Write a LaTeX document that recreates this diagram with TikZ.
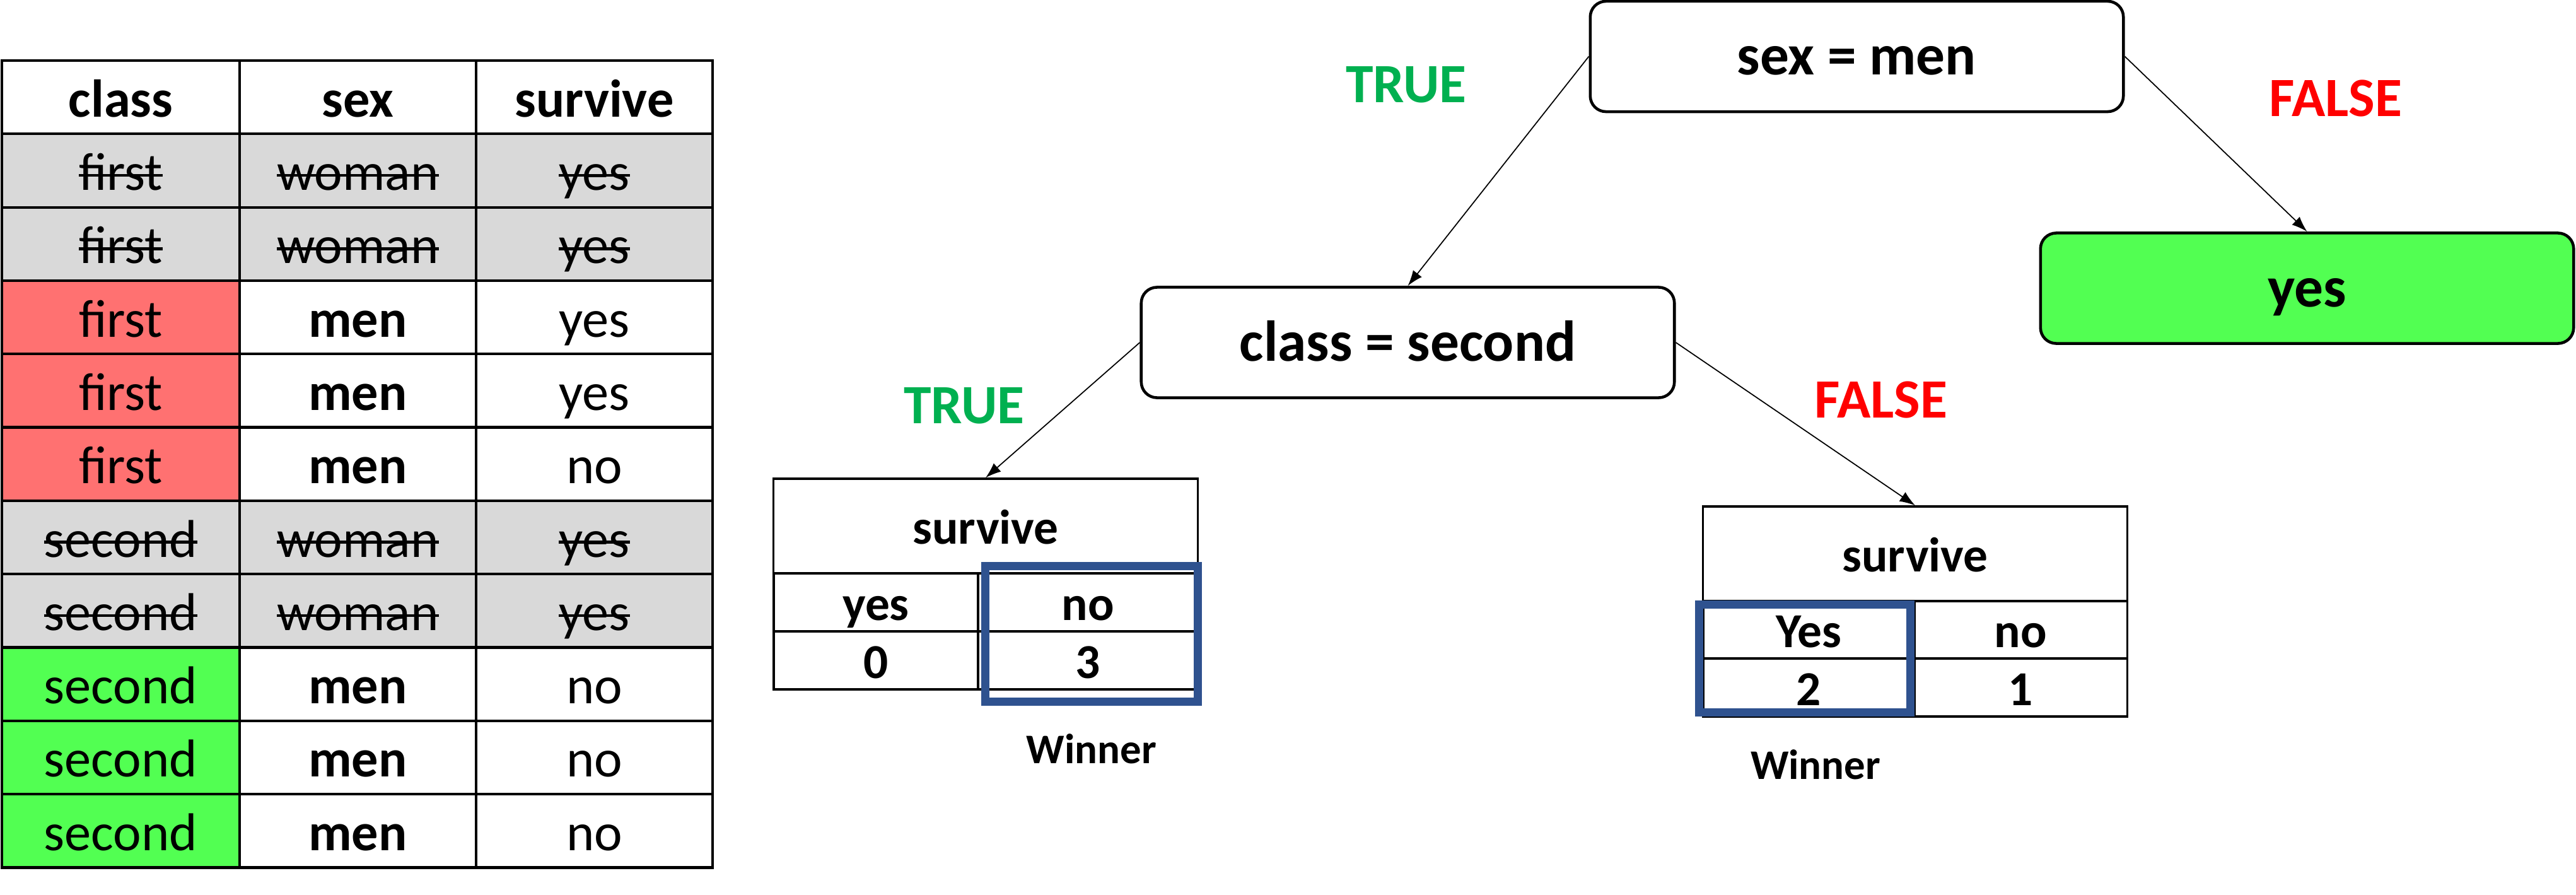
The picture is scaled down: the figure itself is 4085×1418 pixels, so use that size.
\documentclass[tikz,border=0pt]{standalone}
\usepackage{fontspec}
\setmainfont{Carlito}
\usetikzlibrary{arrows.meta}
\definecolor{grayrow}{HTML}{D9D9D9}
\definecolor{redcell}{HTML}{FF7171}
\definecolor{greencell}{HTML}{52FF52}
\definecolor{truegreen}{HTML}{00B050}
\definecolor{falsered}{HTML}{FF0000}
\definecolor{winblue}{HTML}{2F528F}
\newcommand\strk[1]{\setbox0\hbox{#1}\rlap{\rule[6pt]{\wd0}{1.3pt}}\box0}
\newcommand\mrow[7]{%
  \node[cell, minimum width=3.77cm, fill=#3] (#1a) at (191.5,#2) {#5};
  \node[cell, minimum width=3.75cm, fill=#4] (#1b) at (567.5,#2) {#6};
  \node[cell, minimum width=3.75cm, fill=#4] (#1c) at (942.5,#2) {#7};
}
\tikzset{
  cell/.style={draw, line width=1.2pt, minimum height=1.163cm, inner sep=0pt,
    text height=0.62cm, text depth=0cm, font=\fontsize{24}{28}\selectfont},
  treebox/.style={draw, line width=1.3pt, rounded corners=0.25cm, inner sep=0pt,
    minimum width=8.45cm, minimum height=1.75cm, text height=0.58cm, text depth=0cm,
    font=\bfseries\fontsize{26}{30}\selectfont},
  scell/.style={draw, line width=0.9pt, inner sep=0pt, text height=0.56cm, text depth=0cm,
    font=\bfseries\fontsize{22}{26}\selectfont},
  winbox/.style={draw=winblue, line width=3.7pt, inner sep=0pt},
  tlabel/.style={font=\bfseries\fontsize{25}{30}\selectfont, text=truegreen},
  flabel/.style={font=\bfseries\fontsize{25}{30}\selectfont, text=falsered},
  wlabel/.style={font=\bfseries\fontsize{19}{23}\selectfont},
  arr/.style={-{Latex[length=7pt,width=5pt]}, line width=0.5pt}
}
\begin{document}
\begin{tikzpicture}[x=0.01cm, y=-0.01cm]
\useasboundingbox (0,0) rectangle (4085,1418);
% main table
\mrow{h}{154.2}{white}{white}{\bfseries class}{\bfseries sex}{\bfseries survive}
\mrow{r1}{270.5}{grayrow}{grayrow}{\strk{first}}{\strk{woman}}{\strk{yes}}
\mrow{r2}{386.8}{grayrow}{grayrow}{\strk{first}}{\strk{woman}}{\strk{yes}}
\mrow{r3}{503.1}{redcell}{white}{first}{\bfseries men}{yes}
\mrow{r4}{619.4}{redcell}{white}{first}{\bfseries men}{yes}
\mrow{r5}{735.7}{redcell}{white}{first}{\bfseries men}{no}
\mrow{r6}{852.0}{grayrow}{grayrow}{\strk{second}}{\strk{woman}}{\strk{yes}}
\mrow{r7}{968.3}{grayrow}{grayrow}{\strk{second}}{\strk{woman}}{\strk{yes}}
\mrow{r8}{1084.6}{greencell}{white}{second}{\bfseries men}{no}
\mrow{r9}{1200.9}{greencell}{white}{second}{\bfseries men}{no}
\mrow{r10}{1317.2}{greencell}{white}{second}{\bfseries men}{no}
% tree nodes
\node[treebox] (sexmen) at (2944.5,89.5) {sex = men};
\node[treebox, fill=greencell] (yesnode) at (3658.5,457) {yes};
\node[treebox] (classsec) at (2232.5,543) {class = second};
% left small table
\node[scell, minimum width=6.72cm, minimum height=1.50cm] (lhead) at (1563,834) {survive};
\node[scell, minimum width=3.24cm, minimum height=0.92cm] (lyes) at (1389,955) {yes};
\node[scell, minimum width=3.48cm, minimum height=0.92cm] (lno) at (1725,955) {no};
\node[scell, minimum width=3.24cm, minimum height=0.92cm] (lyesv) at (1389,1047) {0};
\node[scell, minimum width=3.48cm, minimum height=0.92cm] (lnov) at (1725,1047) {3};
\node[winbox, minimum width=3.37cm, minimum height=2.14cm] (lwin) at (1731,1005) {};
\node[wlabel] (lwinner) at (1731,1187) {Winner};
% right small table
\node[scell, minimum width=6.72cm, minimum height=1.50cm] (rhead) at (3037,878) {survive};
\node[scell, minimum width=3.35cm, minimum height=0.91cm] (ryes) at (2868.5,998.5) {Yes};
\node[scell, minimum width=3.37cm, minimum height=0.91cm] (rno) at (3204.5,998.5) {no};
\node[scell, minimum width=3.35cm, minimum height=0.92cm] (ryesv) at (2868.5,1090) {2};
\node[scell, minimum width=3.37cm, minimum height=0.92cm] (rnov) at (3204.5,1090) {1};
\node[winbox, minimum width=3.35cm, minimum height=1.71cm] (rwin) at (2862,1044) {};
\node[wlabel] (rwinner) at (2879,1212) {Winner};
% labels
\node[tlabel] (t1) at (2230,134) {TRUE};
\node[flabel] (f1) at (3704,156) {FALSE};
\node[tlabel] (t2) at (1529,643) {TRUE};
\node[flabel] (f2) at (2983,634) {FALSE};
% connectors
\draw[arr] (sexmen.west) -- (classsec.north);
\draw[arr] (sexmen.east) -- (yesnode.north);
\draw[arr] (classsec.west) -- (lhead.north);
\draw[arr] (classsec.east) -- (rhead.north);
\end{tikzpicture}
\end{document}
